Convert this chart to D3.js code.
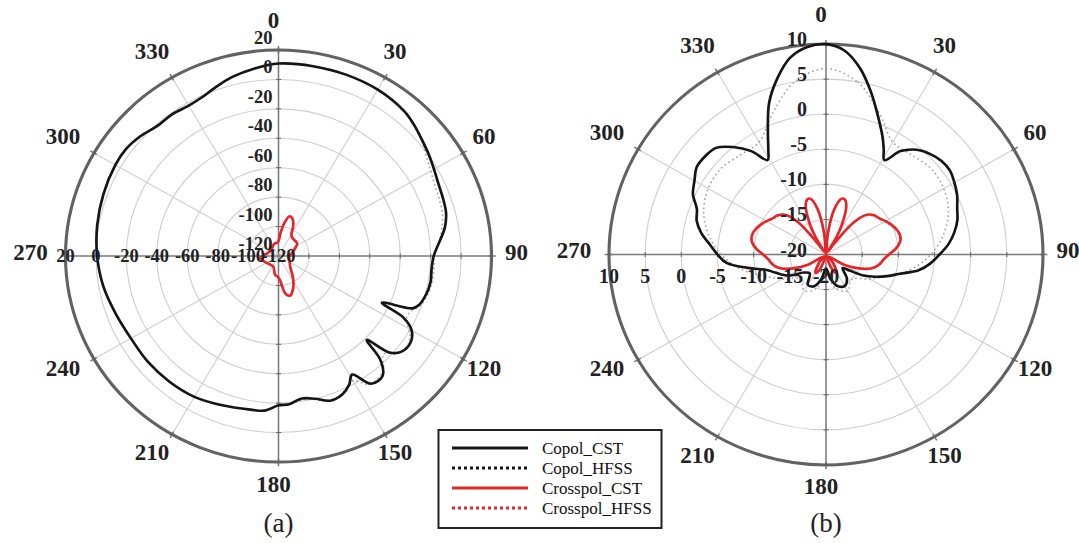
<!DOCTYPE html>
<html><head><meta charset="utf-8">
<script src="https://cdn.jsdelivr.net/npm/d3@7"></script>
<style>body{margin:0;background:#fff}svg{display:block}</style>
</head><body>
<svg id="chart" width="1079" height="543"></svg>
<script>
// ---------- tick labels / categories ----------
const angleTicks = [0,30,60,90,120,150,180,210,240,270,300,330];
const radialTicksA = [20,0,-20,-40,-60,-80,-100,-120];
const radialTicksB = [10,5,0,-5,-10,-15,-20];
const legendLabels = ["Copol_CST","Copol_HFSS","Crosspol_CST","Crosspol_HFSS"];
const captions = ["(a)","(b)"];

// ---------- series values: [angle deg, gain dB] ----------
const copolCST_A = [[0,10.8],[10,11],[20,11],[30,10.5],[40,8.5],[45,6],[50,3],[55,0.5],[60,-2],[65,-4],[70,-5],[75,-6],[80,-9],[85,-14],[90,-18],[95,-19],[100,-18.5],[105,-19.5],[110,-22],[112,-25],[115,-45],[117,-28],[120,-19],[124,-15.2],[129,-16.4],[132,-22],[134.5,-38.6],[136.5,-22.7],[140,-13.6],[145,-14],[149,-26],[152,-21],[156,-17],[161,-16],[166,-20],[171,-22],[176,-19],[180,-18.5],[185,-14.5],[190,-14],[200,-12],[210,-9.5],[220,-8.5],[230,-8],[240,-8],[250,-6],[260,-3],[270,-0.8],[280,1],[290,2.5],[300,3.8],[306,3.8],[312,1.9],[318,-1],[324,-1],[330,-2],[335,-1],[340,1.8],[346,5.4],[353,8.4]];
const copolHFSS_A = [[0,10.8],[10,11],[20,11],[30,10.5],[40,8.5],[45,6],[50,2.5],[55,-1.5],[60,-4.5],[65,-6.5],[70,-7.5],[75,-8.5],[80,-11],[85,-14],[90,-17.5],[95,-17.5],[100,-17.5],[105,-18.5],[110,-21],[113,-25],[116,-26],[119,-23],[122,-18],[126,-15.5],[130,-17],[134,-24],[138,-17],[142,-14],[146,-15],[150,-22],[153,-20],[157,-17],[162,-16.5],[167,-20],[171,-21],[176,-19],[180,-18.5],[185,-14.5],[190,-14],[200,-12],[210,-9.5],[220,-8.5],[230,-8],[240,-8],[250,-6],[260,-3],[270,-0.8],[280,1],[290,2.5],[300,3.8],[306,3.8],[312,1.9],[318,-1],[324,-1],[330,-2],[335,-1],[340,1.8],[346,5.4],[353,8.4]];
const crossCST_A = [[0,-110],[5,-104],[10,-97],[15,-92],[20,-93],[25,-97],[30,-103],[35,-104.5],[45,-105],[55,-105],[65,-108],[78,-111],[95,-113],[115,-112],[133,-109.5],[145,-104],[152,-99],[158,-95],[164,-92],[170,-94],[176,-103],[182,-106],[190,-107],[205,-112],[225,-112],[247,-110],[262,-108],[272,-110],[290,-113],[320,-113],[345,-111],[355,-111]];
const crossHFSS_A = [[0,-110],[5,-104.5],[10,-97.5],[15,-92.5],[20,-93.5],[25,-97.5],[30,-103],[35,-105],[45,-105.5],[55,-105.5],[65,-108.5],[78,-111.5],[95,-113],[115,-112],[133,-110],[145,-104.5],[152,-99.5],[158,-95.5],[164,-92.5],[170,-94.5],[176,-103.5],[182,-106.5],[190,-107.5],[205,-112],[225,-112],[247,-110.5],[262,-108.5],[272,-110.5],[290,-113],[320,-113],[345,-111],[355,-111]];

const copolCST_B = [[0,10],[5,9.2],[10,7],[15,4],[20,1],[25,-1.5],[28,-3],[31,-4.3],[35,-2],[40,-0.5],[45,0.3],[50,0.8],[55,0.9],[60,0.5],[65,0],[70,-0.7],[75,-1.2],[80,-2],[85,-3],[90,-4.3],[95,-5.5],[100,-7],[105,-9.4],[110,-11],[115,-12.5],[120,-14],[125,-16],[130,-17],[140,-15.5],[150,-14.8],[160,-15.2],[170,-16.5],[180,-18],[190,-16.5],[200,-15.2],[210,-15],[220,-16.5],[230,-16],[240,-14],[250,-12.5],[255,-11.5],[260,-9],[265,-6.2],[270,-5],[275,-3.9],[280,-2.5],[285,-1.5],[290,-1],[295,0.3],[300,1],[305,1.8],[310,1.8],[315,1.5],[320,0],[325,-2],[329,-4.3],[332,-3],[335,-1],[340,3],[345,6],[350,8.5],[355,9.7]];
const copolHFSS_B = [[0,6.5],[10,5],[20,1.5],[30,-1.5],[40,-1.5],[50,-1],[60,-1.2],[70,-2],[80,-3.5],[90,-5.5],[100,-8],[110,-11],[120,-13],[135,-15],[150,-14],[165,-15],[180,-17],[195,-15],[210,-14],[225,-15],[240,-13],[250,-11],[260,-8],[270,-5.5],[280,-3.5],[290,-2],[300,-1.2],[310,-1],[320,-1.5],[330,-1.5],[340,1.5],[350,5]];
const crossCST_B = [[0,-20],[5,-17],[10,-13.5],[15,-11.8],[18,-11.7],[22,-12.5],[27,-15],[30,-17],[33,-19.5],[36,-18],[40,-14],[45,-12],[50,-11.3],[55,-11],[60,-10.5],[65,-10],[70,-9.6],[75,-9.4],[80,-9.6],[85,-10.3],[90,-11.3],[95,-12],[100,-12.4],[105,-13],[110,-14],[120,-17],[130,-19.5],[140,-18.5],[151,-17],[157,-17.5],[166,-19.5],[180,-20],[194,-19.5],[203,-17.5],[209,-17],[220,-18.5],[230,-19.5],[240,-17],[250,-14],[255,-13],[260,-12.4],[265,-12],[270,-11.3],[275,-10.3],[280,-9.6],[285,-9.4],[290,-9.6],[295,-10],[300,-10.5],[305,-11],[310,-11.3],[315,-12],[320,-14],[324,-18],[327,-19.5],[330,-17],[333,-15],[338,-12.5],[342,-11.7],[345,-11.8],[350,-13.5],[355,-17]];
const crossHFSS_B = [[0,-20],[5,-17.2],[10,-13.8],[15,-12],[18,-11.9],[22,-12.7],[27,-15.2],[30,-17.2],[33,-19.5],[36,-18.2],[40,-14.2],[45,-12.2],[50,-11.5],[55,-11.2],[60,-10.7],[65,-10.2],[70,-9.8],[75,-9.6],[80,-9.8],[85,-10.5],[90,-11.5],[95,-12.2],[100,-12.6],[105,-13.2],[110,-14.2],[120,-17.2],[130,-19.5],[140,-18.7],[151,-17.2],[157,-17.7],[166,-19.5],[180,-20],[194,-19.5],[203,-17.7],[209,-17.2],[220,-18.7],[230,-19.5],[240,-17.2],[250,-14.2],[255,-13.2],[260,-12.6],[265,-12.2],[270,-11.5],[275,-10.5],[280,-9.8],[285,-9.6],[290,-9.8],[295,-10.2],[300,-10.7],[305,-11.2],[310,-11.5],[315,-12.2],[320,-14.2],[324,-18],[327,-19.5],[330,-17.2],[333,-15.2],[338,-12.7],[342,-11.9],[345,-12],[350,-13.8],[355,-17.2]];

// ---------- styles ----------
const BLACK = "#151515", RED = "#e4262b";
const seriesStyle = [
  {color:"#9a9a9a", width:1.5, dash:"1.5,3"},  // Copol_HFSS (drawn first)
  {color:"#f3a0a2", width:1.5, dash:"1.5,3"},  // Crosspol_HFSS
  {color:BLACK, width:2.6, dash:null},         // Copol_CST
  {color:RED, width:2.6, dash:null}            // Crosspol_CST
];

const svg = d3.select("#chart");
const serif = "'Liberation Serif','Times New Roman',serif";

function drawPolar(o){
  const r = d3.scaleLinear().domain([o.min, o.max]).range([0, o.ry]).clamp(true);
  const sx = o.rx / o.ry;
  const g = svg.append("g").attr("transform", `translate(${o.cx},${o.cy}) scale(${sx},1)`);
  const rad = a => a * Math.PI / 180;
  // grid circles
  g.selectAll("circle.grid").data(o.ticks.filter(t => t !== o.min && t !== o.max)).join("circle")
    .attr("r", d => r(d)).attr("fill","none").attr("stroke","#cfcfcf").attr("stroke-width",1.1);
  // spokes
  g.selectAll("line.spoke").data(angleTicks.filter(a => a % 90 !== 0)).join("line")
    .attr("x1",0).attr("y1",0)
    .attr("x2", a => r(o.max)*Math.sin(rad(a))).attr("y2", a => -r(o.max)*Math.cos(rad(a)))
    .attr("stroke","#cfcfcf").attr("stroke-width",1.1);
  // main axes
  g.selectAll("line.axis").data([0,90]).join("line")
    .attr("x1", a => -r(o.max)*Math.sin(rad(a))).attr("y1", a => r(o.max)*Math.cos(rad(a)))
    .attr("x2", a => r(o.max)*Math.sin(rad(a))).attr("y2", a => -r(o.max)*Math.cos(rad(a)))
    .attr("stroke","#7a7a7a").attr("stroke-width",1.5);
  // small ticks on axes at circle crossings
  const axTicks = [];
  o.ticks.filter(t => t !== o.min).forEach(t => [0,90,180,270].forEach(a => axTicks.push({t,a})));
  g.selectAll("line.axt").data(axTicks).join("line")
    .attr("x1", d => r(d.t)*Math.sin(rad(d.a)) - 2.5*Math.cos(rad(d.a)))
    .attr("y1", d => -r(d.t)*Math.cos(rad(d.a)) - 2.5*Math.sin(rad(d.a)))
    .attr("x2", d => r(d.t)*Math.sin(rad(d.a)) + 2.5*Math.cos(rad(d.a)))
    .attr("y2", d => -r(d.t)*Math.cos(rad(d.a)) + 2.5*Math.sin(rad(d.a)))
    .attr("stroke","#666").attr("stroke-width",1);
  // outer ticks
  g.selectAll("line.ot").data(angleTicks).join("line")
    .attr("x1", a => r(o.max)*0.985*Math.sin(rad(a))).attr("y1", a => -r(o.max)*0.985*Math.cos(rad(a)))
    .attr("x2", a => r(o.max)*1.02*Math.sin(rad(a))).attr("y2", a => -r(o.max)*1.02*Math.cos(rad(a)))
    .attr("stroke","#777").attr("stroke-width",1.5);
  // outer ring
  g.append("circle").attr("r", r(o.max)).attr("fill","none").attr("stroke","#626262").attr("stroke-width",3);

  // series
  const line = d3.lineRadial().angle(d => rad(d[0])).radius(d => r(d[1]))
    .curve(d3.curveCatmullRomClosed.alpha(0.5));
  o.series.forEach((s, i) => {
    const st = seriesStyle[i];
    g.append("path").attr("d", line(s)).attr("fill","none")
      .attr("stroke", st.color).attr("stroke-width", st.width)
      .attr("stroke-dasharray", st.dash).attr("stroke-linejoin","round");
  });

  // angle labels
  svg.append("g").selectAll("text").data(angleTicks).join("text")
    .attr("x", a => o.cx + o.lx + (o.rx + o.lrx) * Math.sin(rad(a)))
    .attr("y", a => o.cy + o.ly - (o.ry + o.lry) * Math.cos(rad(a)))
    .attr("text-anchor","middle").attr("dominant-baseline","central")
    .attr("font-family", serif).attr("font-weight","bold").attr("font-size", 23).attr("fill","#222")
    .text(d => d);
  // vertical radial labels
  svg.append("g").selectAll("text").data(o.ticks).join("text")
    .attr("x", o.cx + o.vlx).attr("y", t => o.cy - r(t) + o.vly)
    .attr("text-anchor","end").attr("dominant-baseline","central")
    .attr("font-family", serif).attr("font-weight","bold").attr("font-size", o.fs).attr("fill","#222")
    .text(d => d);
  // horizontal radial labels
  svg.append("g").selectAll("text").data(o.ticks).join("text")
    .attr("x", t => o.cx - r(t) * sx).attr("y", o.cy + o.hly)
    .attr("text-anchor","middle").attr("dominant-baseline","central")
    .attr("font-family", serif).attr("font-weight","bold").attr("font-size", o.fs).attr("fill","#222")
    .text(d => d);
  // caption
  svg.append("text").attr("x", o.cx).attr("y", 523).attr("text-anchor","middle")
    .attr("dominant-baseline","central").attr("font-family", serif).attr("font-size", 27).attr("fill","#222")
    .text(o.caption);
}

drawPolar({cx:278.5, cy:256, rx:213, ry:206, min:-120, max:20, ticks:radialTicksA,
  series:[copolHFSS_A, crossHFSS_A, copolCST_A, crossCST_A],
  lx:-5, ly:-4, lrx:30, lry:26, vlx:-6, vly:-12, hly:0, fs:18.5, caption:captions[0]});
drawPolar({cx:826, cy:254.5, rx:217, ry:210.4, min:-20, max:10, ticks:radialTicksB,
  series:[copolHFSS_B, crossHFSS_B, copolCST_B, crossCST_B],
  lx:-5, ly:-4, lrx:30, lry:26, vlx:-19, vly:-5, hly:21, fs:20, caption:captions[1]});

// legend
const lg = svg.append("g");
lg.append("rect").attr("x",438.5).attr("y",430).attr("width",223).attr("height",98)
  .attr("fill","#fff").attr("stroke","#222").attr("stroke-width",2);
const legendStyle = [
  {color:BLACK, dash:null}, {color:BLACK, dash:"3,3"}, {color:RED, dash:null}, {color:RED, dash:"3,3"}
];
const ly = d3.scalePoint().domain(legendLabels).range([448, 508]);
legendLabels.forEach((name, i) => {
  lg.append("line").attr("x1", 452).attr("x2", 528).attr("y1", ly(name)).attr("y2", ly(name))
    .attr("stroke", legendStyle[i].color).attr("stroke-width", 3).attr("stroke-dasharray", legendStyle[i].dash);
  lg.append("text").attr("x", 542).attr("y", ly(name)).attr("dominant-baseline","central")
    .attr("font-family", serif).attr("font-size", 17).attr("fill","#111").text(name);
});
</script>
</body></html>
